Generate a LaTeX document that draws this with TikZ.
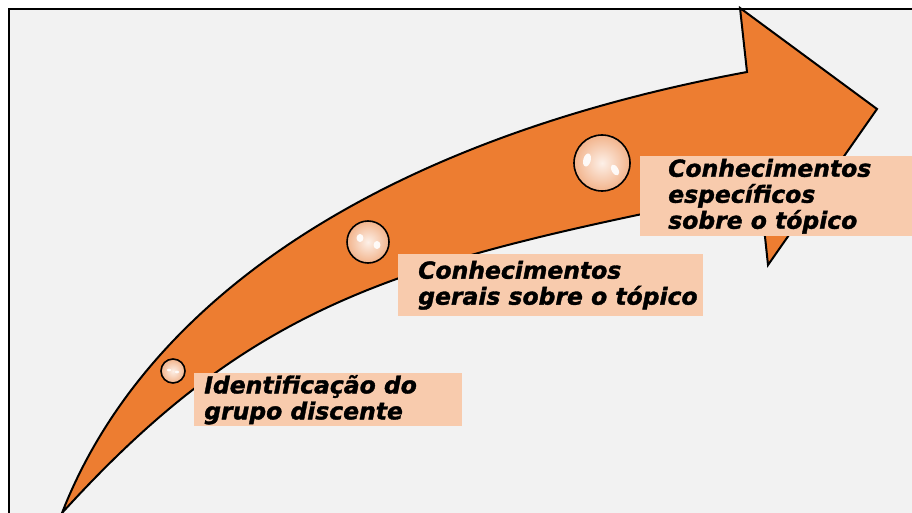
\documentclass[tikz,border=0pt]{standalone}
\usepackage{fontspec}
\setmainfont{DejaVu Sans}[ItalicFont={DejaVu Sans Oblique},BoldFont={DejaVu Sans Bold},BoldItalicFont={DejaVu Sans Bold Oblique},BoldItalicFeatures={FakeBold=1.5}]
\definecolor{panelGray}{HTML}{F2F2F2}
\definecolor{arrowOrange}{HTML}{ED7D31}
\definecolor{tagPeach}{HTML}{F8CBAD}
\definecolor{pearlEdge}{HTML}{F2B48C}
\definecolor{pearlLight}{HTML}{FDF0E8}
\tikzset{
  pearl/.style={inner color=pearlLight, outer color=pearlEdge, draw=black, line width=1.2pt},
  gloss/.style={fill=white, opacity=0.9},
  tagbox/.style={fill=tagPeach, inner sep=0pt, anchor=north west},
  tagtext/.style={font=\fontsize{17.6}{19.5}\bfseries\itshape\selectfont, align=left, inner sep=0pt, anchor=west}
}
\begin{document}
\begin{tikzpicture}[x=0.75pt,y=-0.75pt]
    \useasboundingbox (0,0) rectangle (912,513);
    \clip (0,0) rectangle (912,513);

    %Background
    \fill[white] (0,0) rectangle (912,513);
    \draw[line width=1.5pt, fill=panelGray] (9,9) rectangle (930,530);

    %Arrow
    \draw[line width=1.5pt, line join=miter, fill=arrowOrange]
        (62,513) .. controls (145,300) and (380,140) .. (747,72)
        -- (740,8) -- (877,109) -- (768,265) -- (760,190)
        .. controls (410,260) and (262,293) .. (62,513) -- cycle;

    %Pearls
    \shadedraw[pearl] (173,371) circle (9pt);
    \fill[gloss] (169,370) ellipse (1.5pt and 1pt);
    \fill[gloss] (177,372) ellipse (1.5pt and 1pt);

    \shadedraw[pearl] (368,242) circle (15.75pt);
    \fill[gloss] (360,238) ellipse (2.6pt and 3pt);
    \fill[gloss] (377,245) ellipse (2.6pt and 3pt);

    \shadedraw[pearl] (602,163) circle (21pt);
    \fill[gloss, rotate around={-15:(587,160)}] (587,160) ellipse (2.8pt and 5pt);
    \fill[gloss, rotate around={30:(615,170)}] (615,170) ellipse (2.5pt and 4.5pt);

    %Labels
    \node[tagbox, minimum width=201pt, minimum height=39.75pt] (box1) at (194,373) {};
    \node[tagtext] (step1) at ([xshift=7.5pt]box1.west) {Identificação do\\grupo discente};

    \node[tagbox, minimum width=228.75pt, minimum height=46.5pt] (box2) at (398,254) {};
    \node[tagtext] (step2) at ([xshift=15pt]box2.west) {Conhecimentos\\gerais sobre o tópico};

    \node[tagbox, minimum width=210pt, minimum height=60pt] (box3) at (640,156) {};
    \node[tagtext] (step3) at ([xshift=21pt]box3.west) {Conhecimentos\\específicos\\sobre o tópico};
\end{tikzpicture}
\end{document}
